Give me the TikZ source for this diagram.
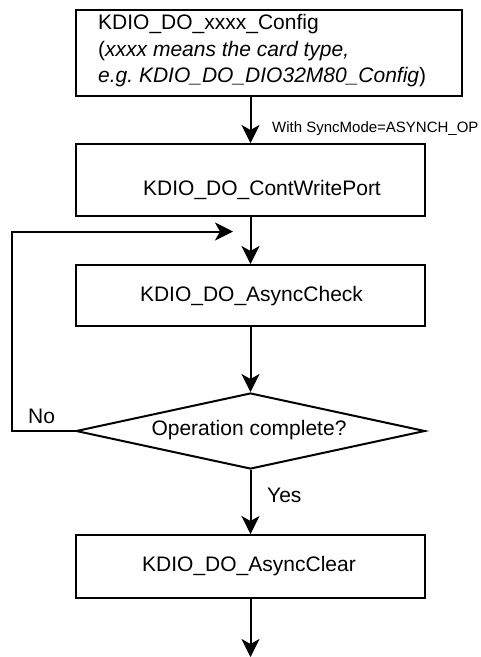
\documentclass[tikz,border=0pt]{standalone}
\usepackage{fontspec}
\setmainfont{Liberation Sans}
\usetikzlibrary{arrows.meta,shapes.geometric}
\tikzset{
  box/.style={draw, line width=2pt, rectangle, inner sep=0pt},
  arr/.style={line width=2pt, -{Stealth[length=18pt,width=18pt,inset=5pt]}},
  txt/.style={inner sep=0pt, font=\fontsize{21}{25}\selectfont},
  small/.style={inner sep=0pt, font=\fontsize{15}{18}\selectfont},
}
\begin{document}
\begin{tikzpicture}[x=1pt,y=-1pt]
\useasboundingbox (0,0) rectangle (481,657);
% boxes
\node[box, minimum width=386pt, minimum height=86pt] (cfg) at (269,53.3) {};
\node[txt, anchor=base west] (cfg1) at (98,29.5) {KDIO\_DO\_xxxx\_Config};
\node[txt, anchor=base west] (cfg2) at (98,56) {(\textit{xxxx means the card type,}};
\node[txt, anchor=base west] (cfg3) at (98,82.7) {\textit{e.g.\ KDIO\_DO\_DIO32M80\_Config})};

\node[box, minimum width=349pt, minimum height=72pt] (cwp) at (250.5,180) {};
\node[txt, anchor=base] (cwpt) at (262,195) {KDIO\_DO\_ContWritePort};

\node[box, minimum width=349pt, minimum height=61pt] (chk) at (250.5,295.5) {};
\node[txt, anchor=base] (chkt) at (251.5,301.7) {KDIO\_DO\_AsyncCheck};

\node[draw, line width=2pt, diamond, aspect=4.6, minimum width=349pt, minimum height=76pt, inner sep=0pt] (dec) at (250.5,431) {};
\node[txt, anchor=base] (dect) at (249,435.5) {Operation complete?};

\node[box, minimum width=349pt, minimum height=63pt] (clr) at (250.5,566.5) {};
\node[txt, anchor=base] (clrt) at (249,571.7) {KDIO\_DO\_AsyncClear};

% labels
\node[small, anchor=base west] (sync) at (272,132.3) {With SyncMode=ASYNCH\_OP};
\node[txt, anchor=base west] (no) at (28,423) {No};
\node[txt, anchor=base west] (yes) at (267,502) {Yes};

% connectors
\coordinate (fbc) at (12,431);
\coordinate (fbt) at (233,231.5);
\coordinate (endp) at (250.5,657);
\draw[arr] (cwp.north |- cfg.south) -- (cwp.north);
\draw[arr] (cwp.south) -- (chk.north);
\draw[arr] (chk.south) -- (dec.north);
\draw[arr] (dec.south) -- (clr.north);
\draw[arr] (clr.south) -- (endp);
\draw[arr] (dec.west) -- (fbc) |- (fbt);
\end{tikzpicture}
\end{document}
